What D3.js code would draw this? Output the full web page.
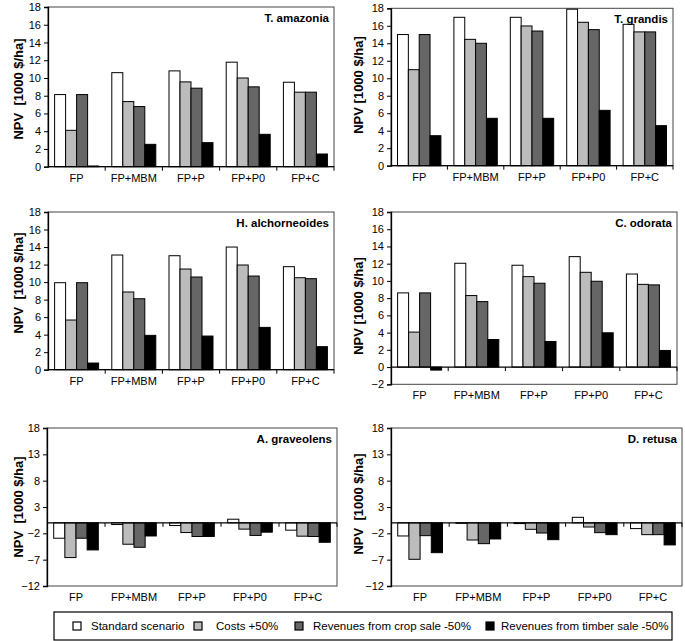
<!DOCTYPE html>
<html><head><meta charset="utf-8">
<script src="https://cdn.jsdelivr.net/npm/d3@7"></script>
<style>
body{margin:0;background:#fff}
svg text{font-family:"Liberation Sans",Arial,sans-serif;fill:#000}
</style>
</head><body><svg id="c" width="685" height="641"></svg>
<script>
// ---- data ----
const categories = ["FP", "FP+MBM", "FP+P", "FP+P0", "FP+C"];
const seriesNames = ["Standard scenario", "Costs +50%", "Revenues from crop sale -50%", "Revenues from timber sale -50%"];
const speciesNames = ["T. amazonia", "T. grandis", "H. alchorneoides", "C. odorata", "A. graveolens", "D. retusa"];

// values per category: [standard, costs +50%, crop revenue -50%, timber revenue -50%]
const tAmazonia = [[8.13, 4.1, 8.13, 0.08], [10.6, 7.34, 6.78, 2.52], [10.8, 9.56, 8.85, 2.71], [11.78, 10.0, 9.0, 3.65], [9.52, 8.4, 8.4, 1.43]];
const tGrandis = [[15.0, 10.98, 15.0, 3.43], [16.97, 14.45, 14.0, 5.42], [16.97, 15.98, 15.4, 5.42], [17.9, 16.4, 15.56, 6.33], [16.17, 15.3, 15.3, 4.58]];
const hAlchorneoides = [[9.93, 5.67, 9.93, 0.76], [13.09, 8.87, 8.1, 3.92], [13.01, 11.49, 10.58, 3.84], [14.0, 11.95, 10.69, 4.83], [11.76, 10.5, 10.39, 2.63]];
const cOdorata = [[8.61, 4.06, 8.61, -0.35], [12.05, 8.3, 7.6, 3.2], [11.82, 10.5, 9.73, 2.97], [12.82, 11.0, 9.96, 3.98], [10.8, 9.6, 9.54, 1.93]];
const aGraveolens = [[-2.93, -6.6, -2.93, -5.15], [-0.33, -4.07, -4.65, -2.5], [-0.52, -1.85, -2.6, -2.6], [0.68, -1.2, -2.4, -1.78], [-1.4, -2.54, -2.6, -3.7]];
const dRetusa = [[-2.5, -6.93, -2.44, -5.67], [-0.1, -3.27, -3.96, -3.07], [-0.15, -1.24, -1.94, -3.2], [1.04, -0.8, -1.87, -2.25], [-1.1, -2.25, -2.25, -4.2]];

const ticksPositive = [0, 2, 4, 6, 8, 10, 12, 14, 16, 18];
const ticksOdorata = [-2, 0, 2, 4, 6, 8, 10, 12, 14, 16, 18];
const ticksNegative = [-12, -7, -2, 3, 8, 13, 18];

// ---- styles / layout ----
const seriesColors = ["#ffffff", "#bcbcbc", "#666666", "#000000"];
const panels = [
  {name: speciesNames[0], data: tAmazonia, ticks: ticksPositive, yTitle: "NPV  [1000 $/ha]", x0: 48, x1: 334, yTop: 7, yBot: 166.7, tx: 20, ty: 89},
  {name: speciesNames[1], data: tGrandis, ticks: ticksPositive, yTitle: "NPV [1000 $/ha]", x0: 391, x1: 673, yTop: 8.3, yBot: 165.7, tx: 360, ty: 85},
  {name: speciesNames[2], data: hAlchorneoides, ticks: ticksPositive, yTitle: "NPV  [1000 $/ha]", x0: 48, x1: 334, yTop: 212, yBot: 369.7, tx: 20, ty: 283},
  {name: speciesNames[3], data: cOdorata, ticks: ticksOdorata, yTitle: "NPV [1000 $/ha]", x0: 391, x1: 677, yTop: 212, yBot: 384.3, tx: 360, ty: 306},
  {name: speciesNames[4], data: aGraveolens, ticks: ticksNegative, yTitle: "NPV  [1000 $/ha]", x0: 47, x1: 337, yTop: 428, yBot: 586, tx: 20, ty: 507},
  {name: speciesNames[5], data: dRetusa, ticks: ticksNegative, yTitle: "NPV  [1000 $/ha]", x0: 391, x1: 682, yTop: 428, yBot: 586, tx: 360, ty: 504}
];

const svg = d3.select("#c");

panels.forEach(p => {
  const g = svg.append("g");
  const x = d3.scaleBand().domain(categories).range([p.x0, p.x1]).padding(0);
  const xs = d3.scaleBand().domain(d3.range(seriesNames.length)).range([0, x.bandwidth()]).paddingInner(0).paddingOuter(0.6);
  const y = d3.scaleLinear().domain([p.ticks[0], p.ticks[p.ticks.length - 1]]).range([p.yBot, p.yTop]);

  // frame
  g.append("rect").attr("x", p.x0).attr("y", p.yTop).attr("width", p.x1 - p.x0).attr("height", p.yBot - p.yTop)
    .attr("fill", "none").attr("stroke", "#444").attr("stroke-width", 1);

  // bars
  categories.forEach((c, ci) => {
    g.selectAll(null).data(p.data[ci]).enter().append("rect")
      .attr("x", (d, i) => x(c) + xs(i))
      .attr("width", xs.bandwidth())
      .attr("y", d => Math.min(y(d), y(0)))
      .attr("height", d => Math.abs(y(d) - y(0)))
      .attr("fill", (d, i) => seriesColors[i])
      .attr("stroke", "#000").attr("stroke-width", 1);
  });

  // zero line with category boundary ticks
  const y0 = y(0);
  g.append("line").attr("x1", p.x0).attr("x2", p.x1).attr("y1", y0).attr("y2", y0).attr("stroke", "#000").attr("stroke-width", 1.2);
  const bounds = categories.slice(1).map(c => x(c));
  bounds.push(p.x1);
  g.selectAll(null).data(bounds).enter().append("line")
    .attr("x1", d => d).attr("x2", d => d).attr("y1", y0).attr("y2", y0 + 4)
    .attr("stroke", "#000").attr("stroke-width", 1);

  // y axis
  const ax = g.append("g").attr("transform", `translate(${p.x0},0)`)
    .call(d3.axisLeft(y).tickValues(p.ticks).tickSize(4).tickPadding(3).tickFormat(d3.format("d")));
  ax.select(".domain").attr("stroke", "#000").attr("stroke-width", 1.3);
  ax.selectAll(".tick line").attr("stroke", "#000");
  ax.selectAll(".tick text").attr("font-size", 11).attr("fill", "#111").style("font-family", '"Liberation Sans",Arial,sans-serif');

  // category labels
  g.selectAll(null).data(categories).enter().append("text")
    .attr("x", d => x(d) + x.bandwidth() / 2).attr("y", p.yBot + 15)
    .attr("text-anchor", "middle").attr("font-size", 11).text(d => d);

  // species label
  g.append("text").attr("x", p.x1 - 5).attr("y", p.yTop + 15).attr("text-anchor", "end")
    .attr("font-size", 11.5).attr("font-weight", "bold").text(p.name);

  // y title
  g.append("text").attr("transform", `translate(${p.tx},${p.ty}) rotate(-90)`)
    .attr("text-anchor", "middle").attr("dominant-baseline", "middle")
    .attr("font-size", 13).attr("font-weight", "bold").style("white-space", "pre").text(p.yTitle);
});

// legend
const lg = svg.append("g");
lg.append("rect").attr("x", 54).attr("y", 612).attr("width", 618).attr("height", 28)
  .attr("fill", "#fff").attr("stroke", "#000").attr("stroke-width", 1.2);
const legendMarkerX = [77, 198, 299, 490];
const legendTextX = [91, 216, 313, 501];
seriesNames.forEach((s, i) => {
  lg.append("rect").attr("x", legendMarkerX[i] - 4).attr("y", 622).attr("width", 8).attr("height", 8)
    .attr("fill", seriesColors[i]).attr("stroke", "#000").attr("stroke-width", 1.2);
  lg.append("text").attr("x", legendTextX[i]).attr("y", 630).attr("font-size", 11.5).text(s);
});
</script>
</body></html>
